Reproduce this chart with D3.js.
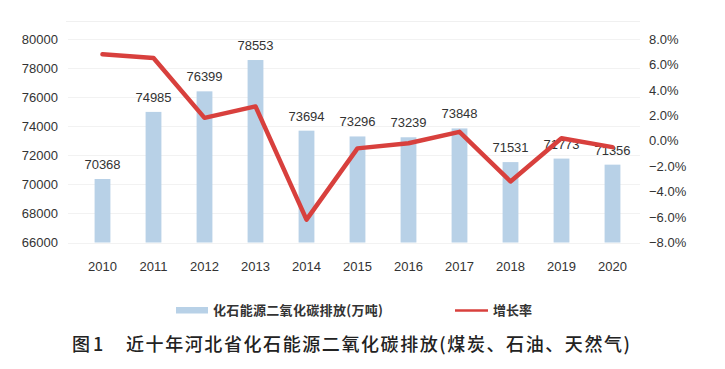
<!DOCTYPE html>
<html>
<head>
<meta charset="utf-8">
<script src="https://cdn.jsdelivr.net/npm/d3@7"></script>
<style>
  body { margin: 0; background: #fff; }
  text { font-family: "Liberation Sans", Arial, sans-serif; }
  .cjk { font-family: "Noto Sans CJK SC", sans-serif; }
</style>
</head>
<body>
<svg id="chart" width="725" height="369"></svg>
<script>
// data
var years = ["2010", "2011", "2012", "2013", "2014", "2015", "2016", "2017", "2018", "2019", "2020"];
var emissions = [70368, 74985, 76399, 78553, 73694, 73296, 73239, 73848, 71531, 71773, 71356];
var growth = [6.8, 6.5, 1.8, 2.7, -6.2, -0.6, -0.2, 0.7, -3.2, 0.2, -0.5];
var leftTicks = [66000, 68000, 70000, 72000, 74000, 76000, 78000, 80000];
var rightTicks = [-8, -6, -4, -2, 0, 2, 4, 6, 8];

var svg = d3.select("#chart");

var plotTop = 39, plotBottom = 242.5, plotLeft = 77, plotRight = 638;

var x = d3.scaleBand()
    .domain(years)
    .range([plotLeft, plotRight])
    .paddingInner(0.69)
    .paddingOuter(0.345);

var y = d3.scaleLinear().domain([66000, 80000]).range([plotBottom, plotTop]);
var y2 = d3.scaleLinear().domain([-8, 8]).range([plotBottom, plotTop]);

// faint top border + grid
svg.append("line")
    .attr("x1", 66).attr("x2", 640)
    .attr("y1", 21.5).attr("y2", 21.5)
    .attr("stroke", "#f0f0f0");

svg.append("g")
    .selectAll("line")
    .data(leftTicks)
    .enter().append("line")
    .attr("x1", 68).attr("x2", 640)
    .attr("y1", function(d) { return Math.round(y(d)) + 0.5; })
    .attr("y2", function(d) { return Math.round(y(d)) + 0.5; })
    .attr("stroke", "#f2f2f2");

// left axis
var leftAxis = svg.append("g")
    .attr("transform", "translate(58,0)")
    .call(d3.axisLeft(y).tickValues(leftTicks).tickSize(0).tickPadding(0)
        .tickFormat(d3.format("d")));
leftAxis.select(".domain").remove();
leftAxis.selectAll("text")
    .attr("font-size", 13)
    .attr("fill", "#333")
    .style("font-family", "Liberation Sans, Arial, sans-serif");

// right axis
var rightAxis = svg.append("g")
    .attr("transform", "translate(649,0)")
    .call(d3.axisRight(y2).tickValues(rightTicks).tickSize(0).tickPadding(0)
        .tickFormat(function(d) { return (d < 0 ? "\u2212" : "") + Math.abs(d).toFixed(1) + "%"; }));
rightAxis.select(".domain").remove();
rightAxis.selectAll("text")
    .attr("font-size", 13)
    .attr("fill", "#333")
    .style("font-family", "Liberation Sans, Arial, sans-serif");

// x axis labels
var xAxis = svg.append("g")
    .attr("transform", "translate(0,262)")
    .call(d3.axisBottom(x).tickSize(0).tickPadding(0));
xAxis.select(".domain").remove();
xAxis.selectAll("text")
    .attr("font-size", 13)
    .attr("fill", "#333")
    .style("font-family", "Liberation Sans, Arial, sans-serif");

// bars
svg.append("g")
    .selectAll("rect")
    .data(emissions)
    .enter().append("rect")
    .attr("x", function(d, i) { return x(years[i]); })
    .attr("width", x.bandwidth())
    .attr("y", function(d) { return y(d); })
    .attr("height", function(d) { return plotBottom - y(d); })
    .attr("fill", "#b8d1e7");

// bar labels
svg.append("g")
    .selectAll("text")
    .data(emissions)
    .enter().append("text")
    .attr("x", function(d, i) { return x(years[i]) + x.bandwidth() / 2; })
    .attr("y", function(d) { return y(d) - 10; })
    .attr("text-anchor", "middle")
    .attr("font-size", 13)
    .attr("fill", "#333")
    .text(function(d) { return d; });

// growth line
var line = d3.line()
    .x(function(d, i) { return x(years[i]) + x.bandwidth() / 2; })
    .y(function(d) { return y2(d); });

svg.append("path")
    .datum(growth)
    .attr("d", line)
    .attr("fill", "none")
    .attr("stroke", "#d8403d")
    .attr("stroke-width", 4.5)
    .attr("stroke-linejoin", "round")
    .attr("stroke-linecap", "round");

// legend
svg.append("rect")
    .attr("x", 176).attr("y", 307)
    .attr("width", 32).attr("height", 6.5)
    .attr("fill", "#b8d1e7");
svg.append("text")
    .attr("class", "cjk")
    .attr("x", 213).attr("y", 315)
    .attr("font-size", 13)
    .attr("font-weight", "bold")
    .attr("fill", "#333")
    .attr("textLength", 170)
    .attr("lengthAdjust", "spacing")
    .text("化石能源二氧化碳排放(万吨)");

svg.append("line")
    .attr("x1", 455).attr("x2", 488)
    .attr("y1", 310.5).attr("y2", 310.5)
    .attr("stroke", "#d8403d")
    .attr("stroke-width", 2.5);
svg.append("text")
    .attr("class", "cjk")
    .attr("x", 493).attr("y", 315)
    .attr("font-size", 13)
    .attr("font-weight", "bold")
    .attr("fill", "#333")
    .text("增长率");

// caption
svg.append("text")
    .attr("class", "cjk")
    .attr("x", 72).attr("y", 351)
    .attr("font-size", 18)
    .attr("font-weight", 500)
    .attr("fill", "#222")
    .attr("letter-spacing", 3)
    .text("图1");
svg.append("text")
    .attr("class", "cjk")
    .attr("x", 126).attr("y", 351)
    .attr("font-size", 18)
    .attr("font-weight", 500)
    .attr("fill", "#222")
    .attr("textLength", 504)
    .attr("lengthAdjust", "spacing")
    .text("近十年河北省化石能源二氧化碳排放(煤炭、石油、天然气)");
</script>
</body>
</html>
